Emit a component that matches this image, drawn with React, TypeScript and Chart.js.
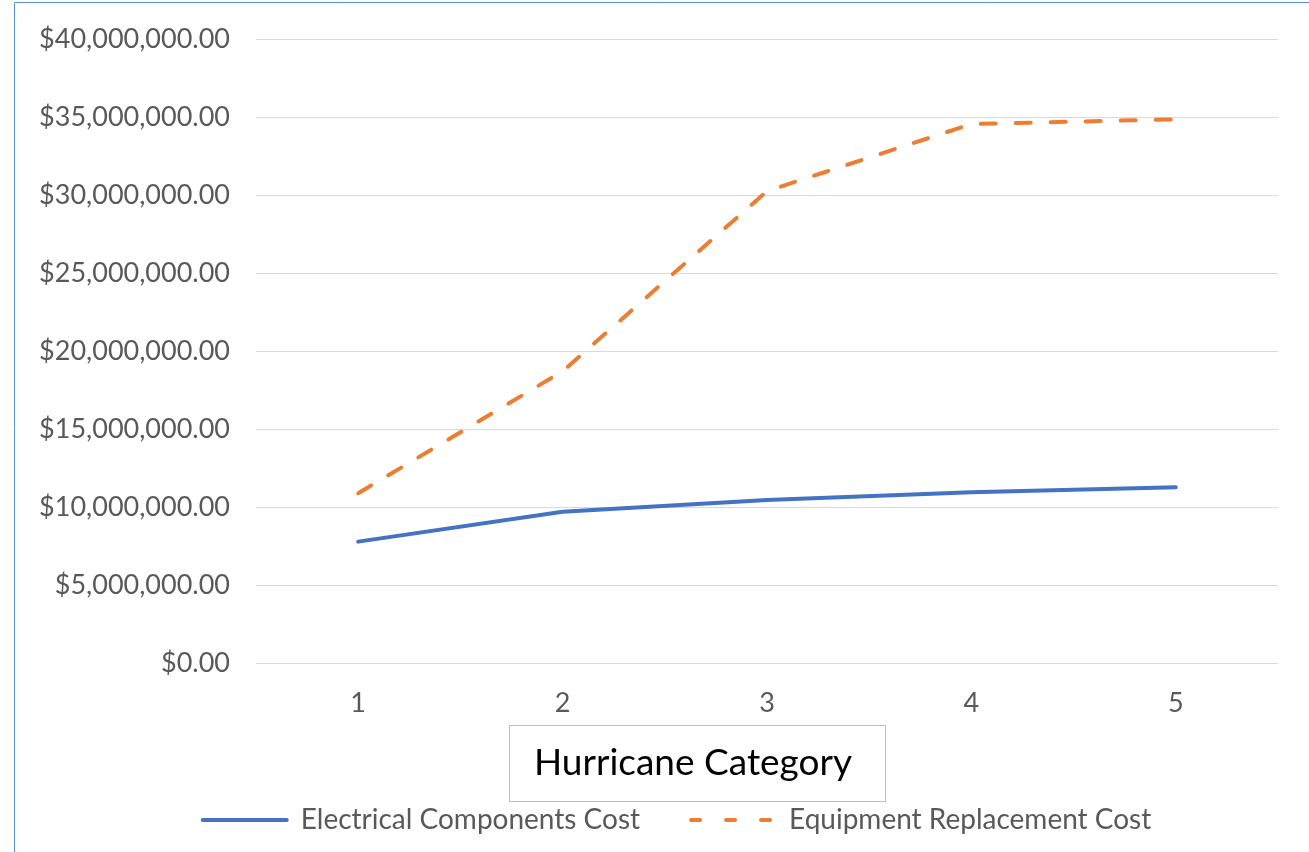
import React, { useEffect, useRef } from "react";
import { Chart, registerables } from "chart.js";

Chart.register(...registerables);

const categories = ["1", "2", "3", "4", "5"];
const electricalCost = [7780000, 9700000, 10450000, 10940000, 11260000];
const equipmentCost = [10880000, 18700000, 30250000, 34550000, 34850000];
const seriesNames = ["Electrical Components Cost", "Equipment Replacement Cost"];
const axisTitle = "Hurricane Category";
const yMin = 0;
const yMax = 40000000;
const yStep = 5000000;

const FONT = "Lato, 'Open Sans', sans-serif";
const TICK_SIZE = 27;
const LEGEND_SIZE = 28;

const framePlugin = {
  id: "frame",
  afterLayout(chart: any) {
    const lg = chart.legend;
    if (lg) {
      const d = 677 - (lg.left + lg.right) / 2;
      lg.left += d;
      lg.right += d;
    }
  },
  afterDraw(chart: any) {
    const ctx = chart.ctx;
    ctx.save();
    // outer frame (left and top edges visible)
    ctx.strokeStyle = "#5B8FD8";
    ctx.lineWidth = 1;
    ctx.beginPath();
    ctx.moveTo(14.5, chart.height);
    ctx.lineTo(14.5, 2.5);
    ctx.lineTo(chart.width, 2.5);
    ctx.stroke();
    // axis title box
    const ca = chart.chartArea;
    const cx = ca.left + 441;
    const cy = ca.bottom + 100;
    const w = 376;
    const h = 76;
    ctx.strokeStyle = "#BFBFBF";
    ctx.lineWidth = 1;
    ctx.strokeRect(Math.round(cx - w / 2) + 0.5, Math.round(cy - h / 2) + 0.5, w, h);
    ctx.fillStyle = "#000000";
    ctx.font = `37px ${FONT}`;
    ctx.textAlign = "center";
    ctx.textBaseline = "middle";
    ctx.fillText(axisTitle, cx - 4, cy);
    ctx.restore();
  },
};

export default function App() {
  const ref = useRef<HTMLCanvasElement | null>(null);

  useEffect(() => {
    if (!ref.current) return;
    const chart = new Chart(ref.current, {
      type: "line",
      data: {
        labels: categories,
        datasets: [
          {
            label: seriesNames[0],
            data: electricalCost,
            borderColor: "#4472C4",
            backgroundColor: "#4472C4",
            borderWidth: 4,
            borderCapStyle: "round",
            borderJoinStyle: "round",
            pointRadius: 0,
            tension: 0,
          },
          {
            label: seriesNames[1],
            data: equipmentCost,
            borderColor: "#ED7D31",
            backgroundColor: "#ED7D31",
            borderWidth: 4,
            borderDash: [15, 20],
            borderCapStyle: "round",
            borderJoinStyle: "round",
            pointRadius: 0,
            tension: 0,
          },
        ],
      },
      options: {
        responsive: false,
        animation: false,
        layout: { padding: { left: 0, right: 31, top: 39, bottom: 8 } },
        scales: {
          x: {
            type: "category",
            offset: true,
            grid: { display: false, drawTicks: false },
            border: { display: false },
            ticks: {
              color: "#595959",
              font: { family: FONT, size: TICK_SIZE },
              padding: 24,
            },
            afterFit(scale: any) {
              scale.height = 92;
            },
          },
          y: {
            min: yMin,
            max: yMax,
            grid: { color: "#D9D9D9", lineWidth: 1, drawTicks: false },
            border: { display: false },
            ticks: {
              stepSize: yStep,
              color: "#595959",
              font: { family: FONT, size: TICK_SIZE },
              padding: 26,
              callback: (v: any) =>
                "$" +
                Number(v).toLocaleString("en-US", {
                  minimumFractionDigits: 2,
                  maximumFractionDigits: 2,
                }),
            },
            afterFit(scale: any) {
              scale.width = 256;
              scale.paddingTop = 0;
              scale.paddingBottom = 0;
            },
          },
        },
        plugins: {
          legend: {
            display: true,
            position: "bottom",
            labels: {
              usePointStyle: true,
              pointStyle: "line",
              pointStyleWidth: 84,
              color: "#595959",
              font: { family: FONT, size: LEGEND_SIZE },
              padding: 51,
              generateLabels(chart: any) {
                const items = Chart.defaults.plugins.legend.labels.generateLabels(chart);
                return items.map((item: any) => {
                  const ds = chart.data.datasets[item.datasetIndex];
                  return {
                    ...item,
                    pointStyle: "line",
                    lineWidth: ds.borderWidth,
                    strokeStyle: ds.borderColor,
                    fillStyle: ds.borderColor,
                    lineCap: "round",
                    lineDash: ds.borderDash ? [9, 26] : [],
                    lineDashOffset: 0,
                  };
                });
              },
            },
          },
          tooltip: { enabled: false },
          title: { display: false },
        },
      },
      plugins: [framePlugin],
    });
    return () => chart.destroy();
  }, []);

  return (
    <div style={{ position: "absolute", left: 0, top: 0, width: 1309, height: 852, background: "#fff" }}>
      <canvas ref={ref} width={1309} height={852} style={{ display: "block" }} />
    </div>
  );
}
